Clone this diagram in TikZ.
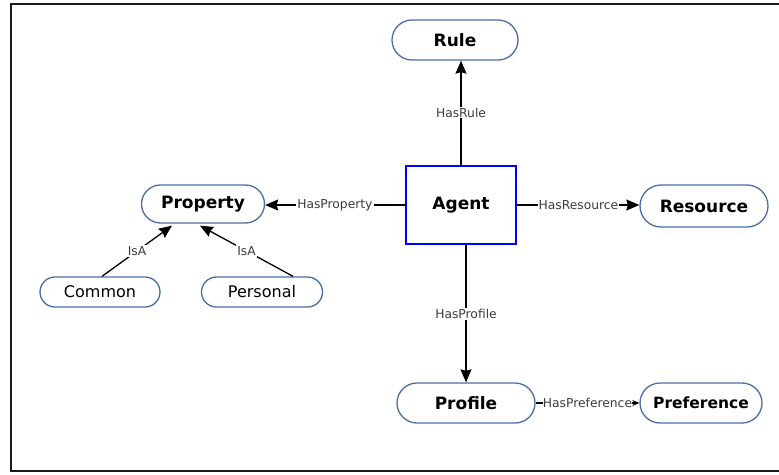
\documentclass[tikz,border=0pt]{standalone}
\usepackage{fontspec}
\setmainfont{DejaVu Sans}
\usetikzlibrary{shapes.misc,arrows.meta}
\definecolor{nodeblue}{RGB}{74,110,165}
\definecolor{labgray}{RGB}{60,60,60}
\begin{document}
\begin{tikzpicture}[x=1pt,y=-1pt,
  concept/.style={rounded rectangle, draw=nodeblue, line width=1.3pt, fill=white,
    inner sep=0pt, font=\fontsize{17}{19}\selectfont\bfseries},
  leaf/.style={rounded rectangle, draw=nodeblue, line width=1.3pt, fill=white,
    inner sep=0pt, font=\fontsize{16}{19}\selectfont},
  agentbox/.style={rectangle, draw=blue, line width=2.8pt, fill=white,
    minimum width=110pt, minimum height=78pt, inner sep=0pt,
    font=\fontsize{17}{19}\selectfont\bfseries},
  rel/.style={line width=1.3pt, draw=black, -{Stealth[length=13pt,width=11pt,inset=1.5pt]}},
  lab/.style={fill=white, inner sep=1pt, text=labgray, font=\fontsize{12.3}{14}\selectfont}]
\useasboundingbox (0,0) rectangle (779,474);
\draw[line width=1.6pt, black!90] (779,4) -- (11,4) -- (11,471) -- (779,471);

\node[agentbox] (agent) at (461,205) {Agent};
\node[concept, minimum width=126pt, minimum height=40pt] (rule) at (455,40) {Rule};
\node[concept, minimum width=123pt, minimum height=38pt] (property) at (203,204) {Property};
\node[concept, minimum width=128pt, minimum height=42pt] (resource) at (704,206) {Resource};
\node[concept, minimum width=138pt, minimum height=40pt] (profile) at (466,403) {Profile};
\node[concept, minimum width=122pt, minimum height=40pt, font=\fontsize{15.5}{18}\selectfont\bfseries] (preference) at (701,403) {Preference};
\node[leaf, minimum width=120pt, minimum height=30pt] (common) at (100,292) {Common};
\node[leaf, minimum width=121pt, minimum height=30pt] (personal) at (262,292) {Personal};

\draw[rel] (agent.north) -- (agent.north |- rule.south) node[lab, midway] {HasRule};
\draw[rel] (agent.west) -- (agent.west -| property.east) node[lab, midway] {HasProperty};
\draw[rel] (agent.east) -- (agent.east -| resource.west) node[lab, midway] {HasResource};
\draw[rel] (profile.north |- agent.south) -- (profile.north) node[lab, midway] {HasProfile};
\draw[line width=1.3pt, draw=black, -{Stealth[length=7pt,width=6pt]}] (profile.east) -- (profile.east -| preference.west) node[lab, midway, inner sep=0pt] {HasPreference};
\draw[rel] ([xshift=2pt]common.north) -- ([xshift=-31pt,yshift=-2pt]property.south) node[lab, midway] {IsA};
\draw[rel] ([xshift=31pt]personal.north) -- ([xshift=-3pt,yshift=-2pt]property.south) node[lab, midway] {IsA};
\end{tikzpicture}
\end{document}
